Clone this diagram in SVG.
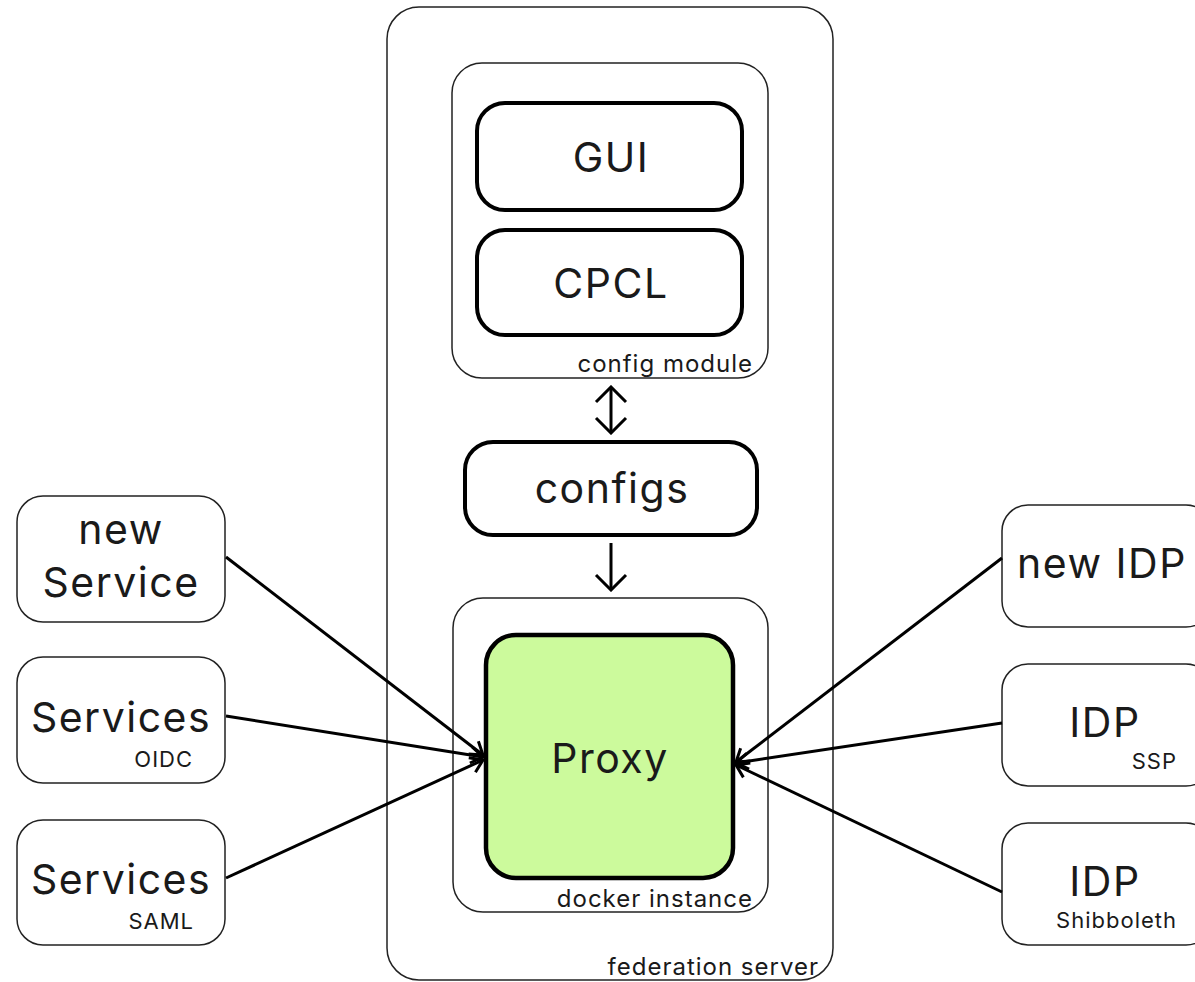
<svg xmlns="http://www.w3.org/2000/svg" width="1195" height="982" viewBox="0 0 1195 982">
<style>
  text { font-family: Inter, "Noto Sans", "Liberation Sans", sans-serif; fill: #1a1a1a; }
  .big { font-size: 41px; text-anchor: middle; letter-spacing: 1.5px; }
  .small { font-size: 22px; text-anchor: end; letter-spacing: 1px; }
  .label { font-size: 24px; text-anchor: end; letter-spacing: 1px; }
  .thin { fill: #fff; stroke: #222; stroke-width: 1.5; }
  .container { fill: none; stroke: #222; stroke-width: 1.5; }
  .thick { fill: #fff; stroke: #000; stroke-width: 4; }
  .proxy { fill: #ccfa9c; stroke: #000; stroke-width: 4.5; }
  .conn { stroke: #000; stroke-width: 3; fill: none; }
</style>
<defs>
  <marker id="arr" viewBox="-14 -10 16 20" markerWidth="16" markerHeight="20" refX="0" refY="0" orient="auto-start-reverse" markerUnits="userSpaceOnUse">
    <path d="M-12,-8 L0,0 L-12,8" fill="none" stroke="#000" stroke-width="3"/>
  </marker>
  <marker id="arrBig" viewBox="-18 -18 20 36" markerWidth="20" markerHeight="36" refX="0" refY="0" orient="auto-start-reverse" markerUnits="userSpaceOnUse">
    <path d="M-15,-15 L0,0 L-15,15" fill="none" stroke="#000" stroke-width="3"/>
  </marker>
</defs>
<rect width="1195" height="982" fill="#fff"/>

<g id="federation-server">
  <rect class="container" x="387" y="7" width="446" height="973" rx="32"/>
  <text class="label" x="819" y="975">federation server</text>
</g>

<g id="config-module">
  <rect class="container" x="452" y="63" width="316" height="315" rx="30"/>
  <text class="label" x="753" y="372">config module</text>
</g>

<g id="gui">
  <rect class="thick" x="477" y="103" width="265" height="107" rx="28"/>
  <text class="big" x="611" y="172">GUI</text>
</g>

<g id="cpcl">
  <rect class="thick" x="477" y="230" width="265" height="105" rx="28"/>
  <text class="big" x="611" y="298">CPCL</text>
</g>

<g id="configs">
  <rect class="thick" x="465" y="442" width="292" height="93" rx="28"/>
  <text class="big" x="612" y="503">configs</text>
</g>

<g id="docker-instance">
  <rect class="container" x="453" y="598" width="315" height="314" rx="30"/>
  <text class="label" x="753" y="907">docker instance</text>
</g>

<g id="proxy">
  <rect class="proxy" x="486" y="635" width="247" height="243" rx="30"/>
  <text class="big" x="610" y="773">Proxy</text>
</g>

<g id="new-service">
  <rect class="thin" x="17" y="496" width="208" height="126" rx="26"/>
  <text class="big" x="121" y="544">new</text>
  <text class="big" x="121" y="597">Service</text>
</g>

<g id="services-oidc">
  <rect class="thin" x="17" y="657" width="208" height="126" rx="26"/>
  <text class="big" x="121" y="732">Services</text>
  <text class="small" x="193" y="767">OIDC</text>
</g>

<g id="services-saml">
  <rect class="thin" x="17" y="820" width="208" height="125" rx="26"/>
  <text class="big" x="121" y="894">Services</text>
  <text class="small" x="194" y="929">SAML</text>
</g>

<g id="new-idp">
  <rect class="thin" x="1002" y="505" width="210" height="122" rx="26"/>
  <text class="big" x="1102" y="578">new IDP</text>
</g>

<g id="idp-ssp">
  <rect class="thin" x="1002" y="664" width="210" height="122" rx="26"/>
  <text class="big" x="1105" y="737">IDP</text>
  <text class="small" x="1177" y="769">SSP</text>
</g>

<g id="idp-shibboleth">
  <rect class="thin" x="1002" y="823" width="210" height="122" rx="26"/>
  <text class="big" x="1105" y="896">IDP</text>
  <text class="small" x="1177" y="928">Shibboleth</text>
</g>

<g id="connectors">
  <line class="conn" x1="611" y1="387" x2="611" y2="433" marker-start="url(#arrBig)" marker-end="url(#arrBig)"/>
  <line class="conn" x1="611" y1="543" x2="611" y2="590" marker-end="url(#arrBig)"/>
  <line class="conn" x1="226" y1="557" x2="483" y2="755" marker-end="url(#arr)"/>
  <line class="conn" x1="226" y1="716" x2="483" y2="757" marker-end="url(#arr)"/>
  <line class="conn" x1="226" y1="878" x2="483" y2="760" marker-end="url(#arr)"/>
  <line class="conn" x1="1002" y1="558" x2="736" y2="762" marker-end="url(#arr)"/>
  <line class="conn" x1="1002" y1="723" x2="736" y2="763" marker-end="url(#arr)"/>
  <line class="conn" x1="1002" y1="892" x2="736" y2="765" marker-end="url(#arr)"/>
</g>
</svg>
